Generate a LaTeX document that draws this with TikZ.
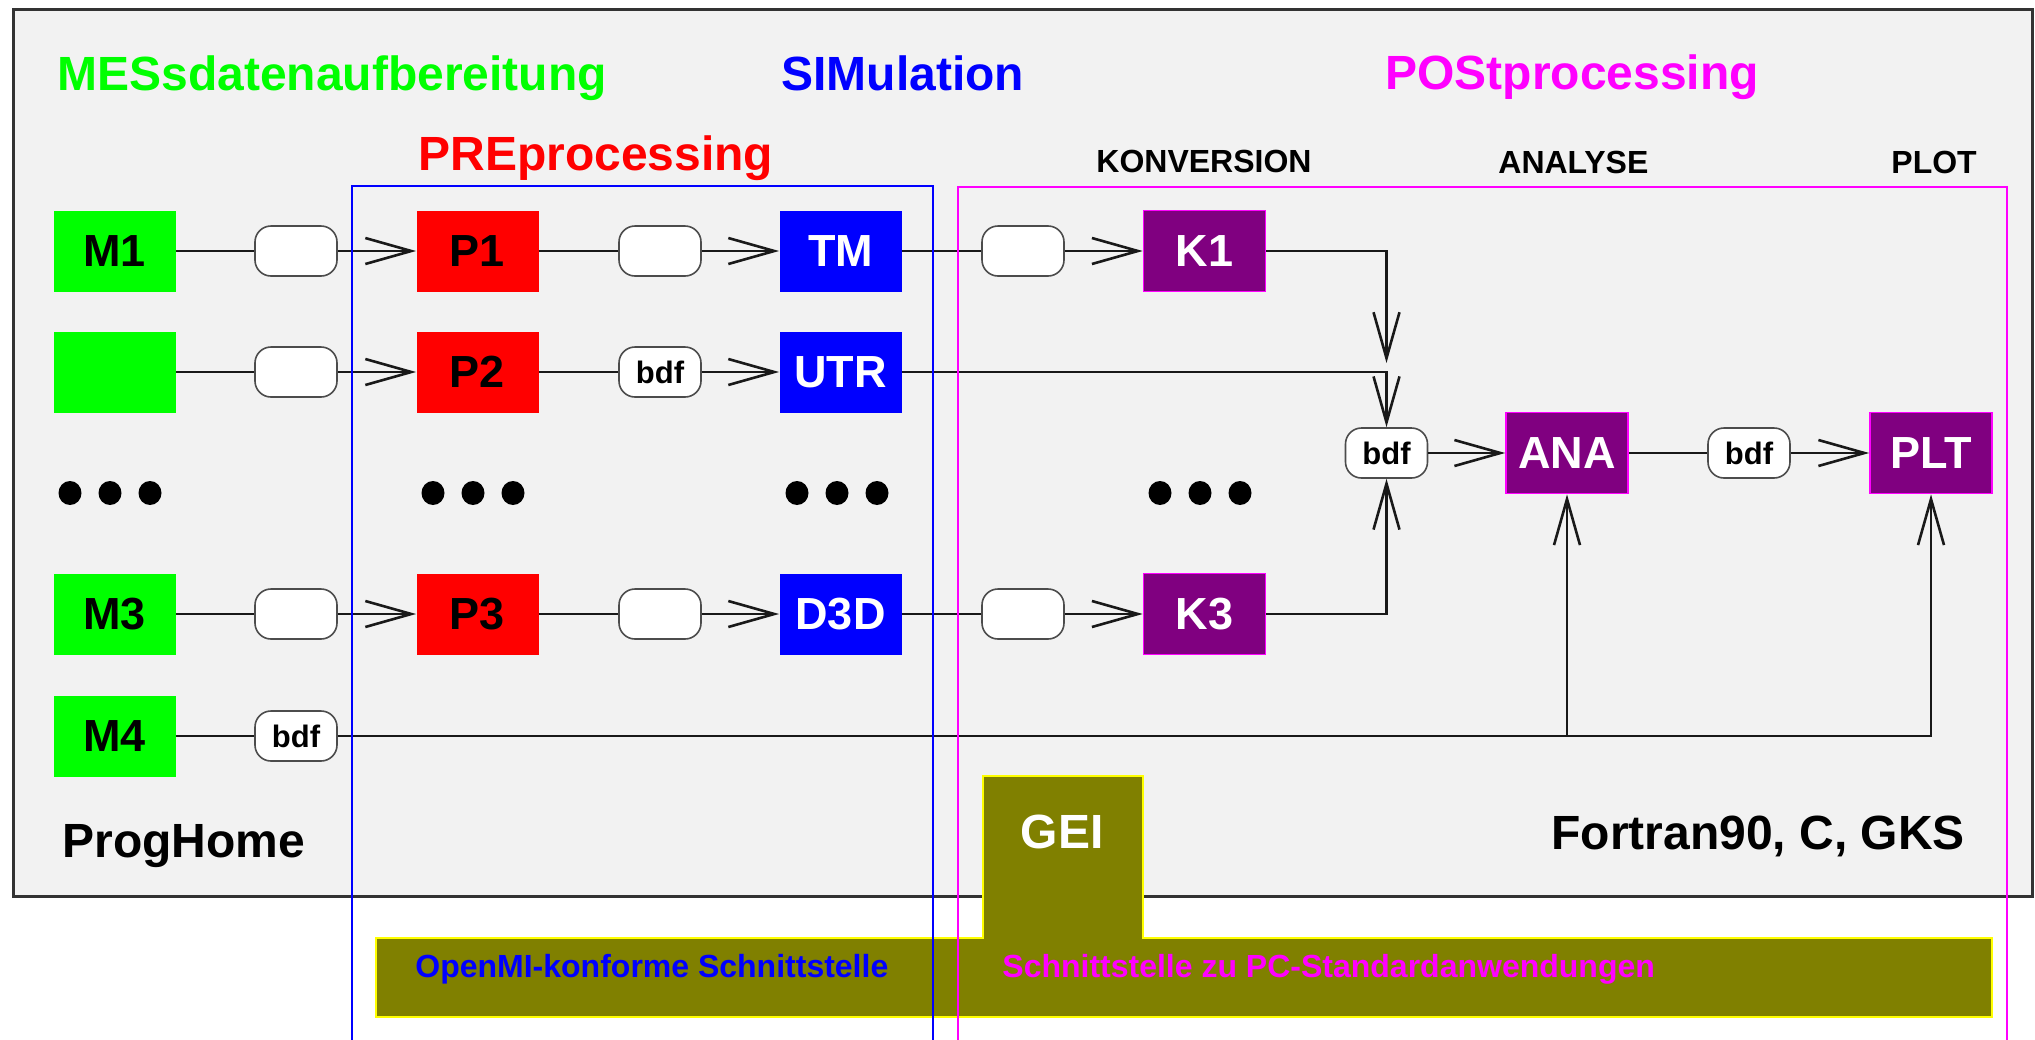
\documentclass[tikz,border=0pt]{standalone}
\usepackage{fontspec}
\setmainfont{Liberation Sans}
\usetikzlibrary{arrows.meta}
\definecolor{bggray}{HTML}{F2F2F2}
\definecolor{pgreen}{HTML}{00FF00}
\definecolor{pred}{HTML}{FF0000}
\definecolor{pblue}{HTML}{0000FF}
\definecolor{pmag}{HTML}{FF00FF}
\definecolor{ppurp}{HTML}{800080}
\definecolor{polive}{HTML}{808000}
\definecolor{pyel}{HTML}{FFFF00}
\tikzset{
 box/.style={minimum width=61pt, minimum height=40.5pt, inner sep=0pt, font=\fontsize{22.5}{26}\selectfont\bfseries},
 mbox/.style={box, fill=pgreen, text=black},
 pbox/.style={box, fill=pred, text=black},
 sbox/.style={box, fill=pblue, text=white},
 kbox/.style={box, fill=ppurp, draw=pmag, line width=0.8pt, text=white},
 oval/.style={minimum width=41pt, minimum height=25pt, inner sep=0pt, rounded corners=8pt, draw=black!70, line width=0.8pt, fill=white, font=\fontsize{15.5}{18}\selectfont\bfseries},
 ln/.style={line width=1.3pt, draw=black!90},
 arr/.style={ln, -{Straight Barb[length=23pt, width=13pt, line width=1.3pt]}},
 title/.style={anchor=base west, inner sep=0pt, font=\fontsize{24}{28}\selectfont\bfseries},
 small/.style={anchor=base west, inner sep=0pt, font=\fontsize{16}{19}\selectfont\bfseries},
 frame/.style={line width=1.4pt},
}
\begin{document}
\begin{tikzpicture}[x=0.5pt, y=-0.5pt]
\useasboundingbox (0,0) rectangle (2035,1039);
\clip (0,0) rectangle (2035,1039);
% background panel
\draw[fill=bggray, draw=black!80, line width=1.5pt] (13,9) rectangle (2032,896);
% GEI / interface shape
\fill[polive, draw=pyel, line width=0.8pt] (983,776) -- (1143,776) -- (1143,938) -- (1992,938) -- (1992,1017) -- (376,1017) -- (376,938) -- (983,938) -- cycle;

% titles
\node[title, text=pgreen] (tmes) at (57,90) {MESsdatenaufbereitung};
\node[title, text=pblue] (tsim) at (781,90) {SIMulation};
\node[title, text=pmag] (tpost) at (1385,89) {POStprocessing};
\node[title, text=pred] (tpre) at (418,170) {PREprocessing};
\node[small] (tkon) at (1096,172) {KONVERSION};
\node[small] (tana) at (1498,173) {ANALYSE};
\node[small] (tplot) at (1891,173) {PLOT};

% boxes
\node[mbox] (M1) at (114.5,251) {M1};
\node[mbox] (M2) at (114.5,372) {};
\node[mbox] (M3) at (114.5,614) {M3};
\node[mbox] (M4) at (114.5,736) {M4};
\node[pbox] (P1) at (477.5,251) {P1};
\node[pbox] (P2) at (477.5,372) {P2};
\node[pbox] (P3) at (477.5,614) {P3};
\node[sbox] (S1) at (840.5,251) {TM};
\node[sbox] (S2) at (840.5,372) {UTR};
\node[sbox] (S3) at (840.5,614) {D3D};
\node[kbox] (K1) at (1204.5,251) {K1};
\node[kbox] (K3) at (1204.5,614) {K3};
\node[kbox] (ANA) at (1567,453) {ANA};
\node[kbox] (PLT) at (1931,453) {PLT};

% data ovals
\node[oval] (a1) at (296,251) {};
\node[oval] (a2) at (296,372) {};
\node[oval] (a3) at (296,614) {};
\node[oval] (a4) at (296,736) {bdf};
\node[oval] (b1) at (660,251) {};
\node[oval] (b2) at (660,372) {bdf};
\node[oval] (b3) at (660,614) {};
\node[oval] (c1) at (1023,251) {};
\node[oval] (c3) at (1023,614) {};
\node[oval] (d) at (1386.5,453) {bdf};
\node[oval] (e) at (1749,453) {bdf};
\coordinate (j1) at (1386.5,363);

% connectors
\draw[ln] (M1) -- (a1); \draw[arr] (a1) -- (P1);
\draw[ln] (M2) -- (a2); \draw[arr] (a2) -- (P2);
\draw[ln] (M3) -- (a3); \draw[arr] (a3) -- (P3);
\draw[ln] (P1) -- (b1); \draw[arr] (b1) -- (S1);
\draw[ln] (P2) -- (b2); \draw[arr] (b2) -- (S2);
\draw[ln] (P3) -- (b3); \draw[arr] (b3) -- (S3);
\draw[ln] (S1) -- (c1); \draw[arr] (c1) -- (K1);
\draw[ln] (S3) -- (c3); \draw[arr] (c3) -- (K3);
\draw[arr] (K1) -| (j1);
\draw[arr] (S2) -| (d);
\draw[arr] (K3) -| (d);
\draw[arr] (d) -- (ANA);
\draw[ln] (ANA) -- (e); \draw[arr] (e) -- (PLT);
\draw[ln] (M4) -- (a4);
\draw[arr] (a4) -| (ANA);
\draw[arr] (a4) -| (PLT);

% ellipsis dots
\foreach \cx in {110,473,837,1200}{
  \foreach \dx in {-40,0,40}{
    \fill[black] (\cx+\dx,493) ellipse [x radius=11.5, y radius=12];
  }
}

% frames
\draw[frame, draw=pblue] (352,1045) -- (352,186) -- (933,186) -- (933,1045);
\draw[frame, draw=pmag] (958,1045) -- (958,187) -- (2007,187) -- (2007,1045);

% other texts
\node[title] (prog) at (62,857) {ProgHome};
\node[title] (fort) at (1551,849) {Fortran90, C, GKS};
\node[title, anchor=base, text=white] (gei) at (1062,848) {GEI};
\node[small, text=pblue] (openmi) at (415,977) {OpenMI-konforme Schnittstelle};
\node[small, text=pmag] (pcstd) at (1002,977) {Schnittstelle zu PC-Standardanwendungen};
\end{tikzpicture}
\end{document}
